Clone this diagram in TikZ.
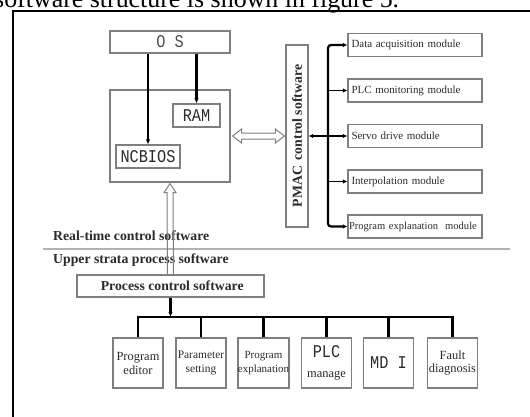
\documentclass[tikz,border=0pt]{standalone}
\usepackage{fontspec}
\setmainfont{Liberation Serif}
\newfontfamily\monof[FakeStretch=0.85]{Liberation Mono}
\usetikzlibrary{arrows.meta,calc}
\definecolor{boxgray}{HTML}{7F7F7F}
\definecolor{txtdark}{HTML}{2A2A2A}
\begin{document}
\begin{tikzpicture}[x=1bp,y=-1bp,
  box/.style={draw=boxgray, line width=1.2bp, inner sep=0pt, text=txtdark},
  modbox/.style={box, minimum width=134bp, minimum height=23bp, text width=127bp, align=left,
     font=\fontsize{11}{12}\selectfont},
  botbox/.style={box, minimum width=50bp, minimum height=50bp, align=center},
  busline/.style={line width=2.2bp, black},
  arr/.style={-{Latex[length=5bp,width=4.5bp]}},
  marr/.style={line width=1.5bp, -{Latex[length=4.5bp,width=4.5bp]}},
  hollow/.style={draw=boxgray, line width=1bp, fill=white},
  boldtxt/.style={font=\bfseries\fontsize{13.8}{15}\selectfont, text=txtdark, inner sep=0pt},
  monotxt/.style={font=\monof\fontsize{18}{18}\selectfont}
]
\useasboundingbox (0,0) rectangle (530,416);
\clip (0,0) rectangle (530,416);

% caption fragment and frame
\node[anchor=base west, inner sep=0pt, font=\fontsize{26}{26}\selectfont] (cap) at (-6,7) {software structure is shown in figure 5.};
\coordinate (fb) at (13,420);
\coordinate (fc) at (13,11);
\coordinate (fr) at (535,11);
\draw[line width=1.6bp] (fb) -- (fc) -- (fr);

% upper left block
\node[box, minimum width=120bp, minimum height=22bp, monotxt, text=black!70] (os) at (170,42) {O S};
\node[box, minimum width=120bp, minimum height=92bp] (big) at (170,136) {};
\node[box, minimum width=47bp, minimum height=23bp, monotxt] (ram) at (196.5,115.5) {RAM};
\node[box, minimum width=64bp, minimum height=23bp, monotxt] (ncb) at (148,156.5) {NCBIOS};
\draw[arr, line width=1.8bp] (ncb.north |- os.south) -- (ncb.north);
\draw[arr, line width=2.6bp] (ram.north |- os.south) -- (ram.north);

% PMAC
\node[box, minimum width=22bp, minimum height=182bp] (pmac) at (297,136) {};
\node[boldtxt, rotate=90] (pmact) at (pmac.center) {PMAC\, control software};

% hollow double arrow big <-> pmac
\draw[hollow] ($(big.east)+(2,0)$) -- ++(9,-7) -- ++(0,4) -- ($(pmac.west)+(-10,-3)$) -- ++(0,-4)
   -- ($(pmac.west)+(-1,0)$) -- ++(-9,7) -- ++(0,-4) -- ($(big.east)+(11,3)$) -- ++(0,4) -- cycle;

% modules
\node[modbox] (m1) at (415,45) {Data acquisition module};
\node[modbox] (m2) at (415,90.5) {PLC monitoring module};
\node[modbox] (m3) at (415,136) {Servo drive module};
\node[modbox] (m4) at (415,181.5) {Interpolation module};
\node[modbox, text width=132bp, font=\fontsize{10.6}{12}\selectfont] (m5) at (415,226.5) {\mbox{Program explanation\ \ module}};
\coordinate (bx) at (328,0);
\draw[busline, rounded corners=3bp, -{Latex[length=4.5bp,width=4.5bp]}] (m3.west -| bx) -- (m1.west -| bx) -- (m1.west);
\draw[busline, rounded corners=3bp, -{Latex[length=4.5bp,width=4.5bp]}] (m3.west -| bx) -- (m5.west -| bx) -- (m5.west);
\draw[marr] (m2.west -| bx) -- (m2.west);
\draw[marr] (m4.west -| bx) -- (m4.west);
\draw[line width=1.5bp, {Latex[length=4.5bp,width=4.5bp]}-{Latex[length=4.5bp,width=4.5bp]}] (pmac.east) -- (m3.west);

% separator and layer labels
\coordinate (s1) at (43,249);
\coordinate (s2) at (510,249);
\draw[black!30, line width=1.5bp] (s1) -- (s2);
\node[boldtxt, anchor=base west] (rt) at (53,240) {Real-time control software};
\node[boldtxt, anchor=base west] (up) at (53,263) {Upper strata process software};

% process control
\node[box, minimum width=187bp, minimum height=22bp, boldtxt] (proc) at (170.5,286) {\ Process control software};

% hollow vertical arrow process -> big
\draw[boxgray, line width=1bp] ($(proc.north)+(-3,0)$) -- ($(big.south)+(-3,10)$) -- ++(-3,0)
   -- ($(big.south)+(0,1)$) -- ($(big.south)+(6,10)$) -- ++(-3,0) -- ($(proc.north)+(3,0)$);

% bottom boxes
\node[botbox, font=\fontsize{12.5}{14}\selectfont] (b1) at (138,363) {Program\\editor};
\node[botbox, font=\fontsize{11.5}{14}\selectfont] (b2) at (201,363) {Parameter\\setting};
\node[botbox, font=\fontsize{11}{14}\selectfont] (b3) at (263.5,363) {Program\\explanation};
\node[botbox, font=\fontsize{12.5}{20}\selectfont] (b4) at (326.5,363) {{\monof\fontsize{18}{20}\selectfont PLC}\\manage};
\node[botbox, monotxt] (b5) at (388.5,363) {MD I};
\node[botbox, font=\fontsize{12.5}{14}\selectfont] (b6) at (452.5,363) {Fault\\diagnosis};

\coordinate (bus) at (170.5,317);
\draw[busline, arr] (proc.south) -- (bus);
\draw[busline, line cap=rect] (b1.north |- bus) -- (b6.north |- bus);
\foreach \b in {b1,b2,b3,b4,b5,b6} \draw[busline] (\b.north |- bus) -- (\b.north);
\end{tikzpicture}
\end{document}
